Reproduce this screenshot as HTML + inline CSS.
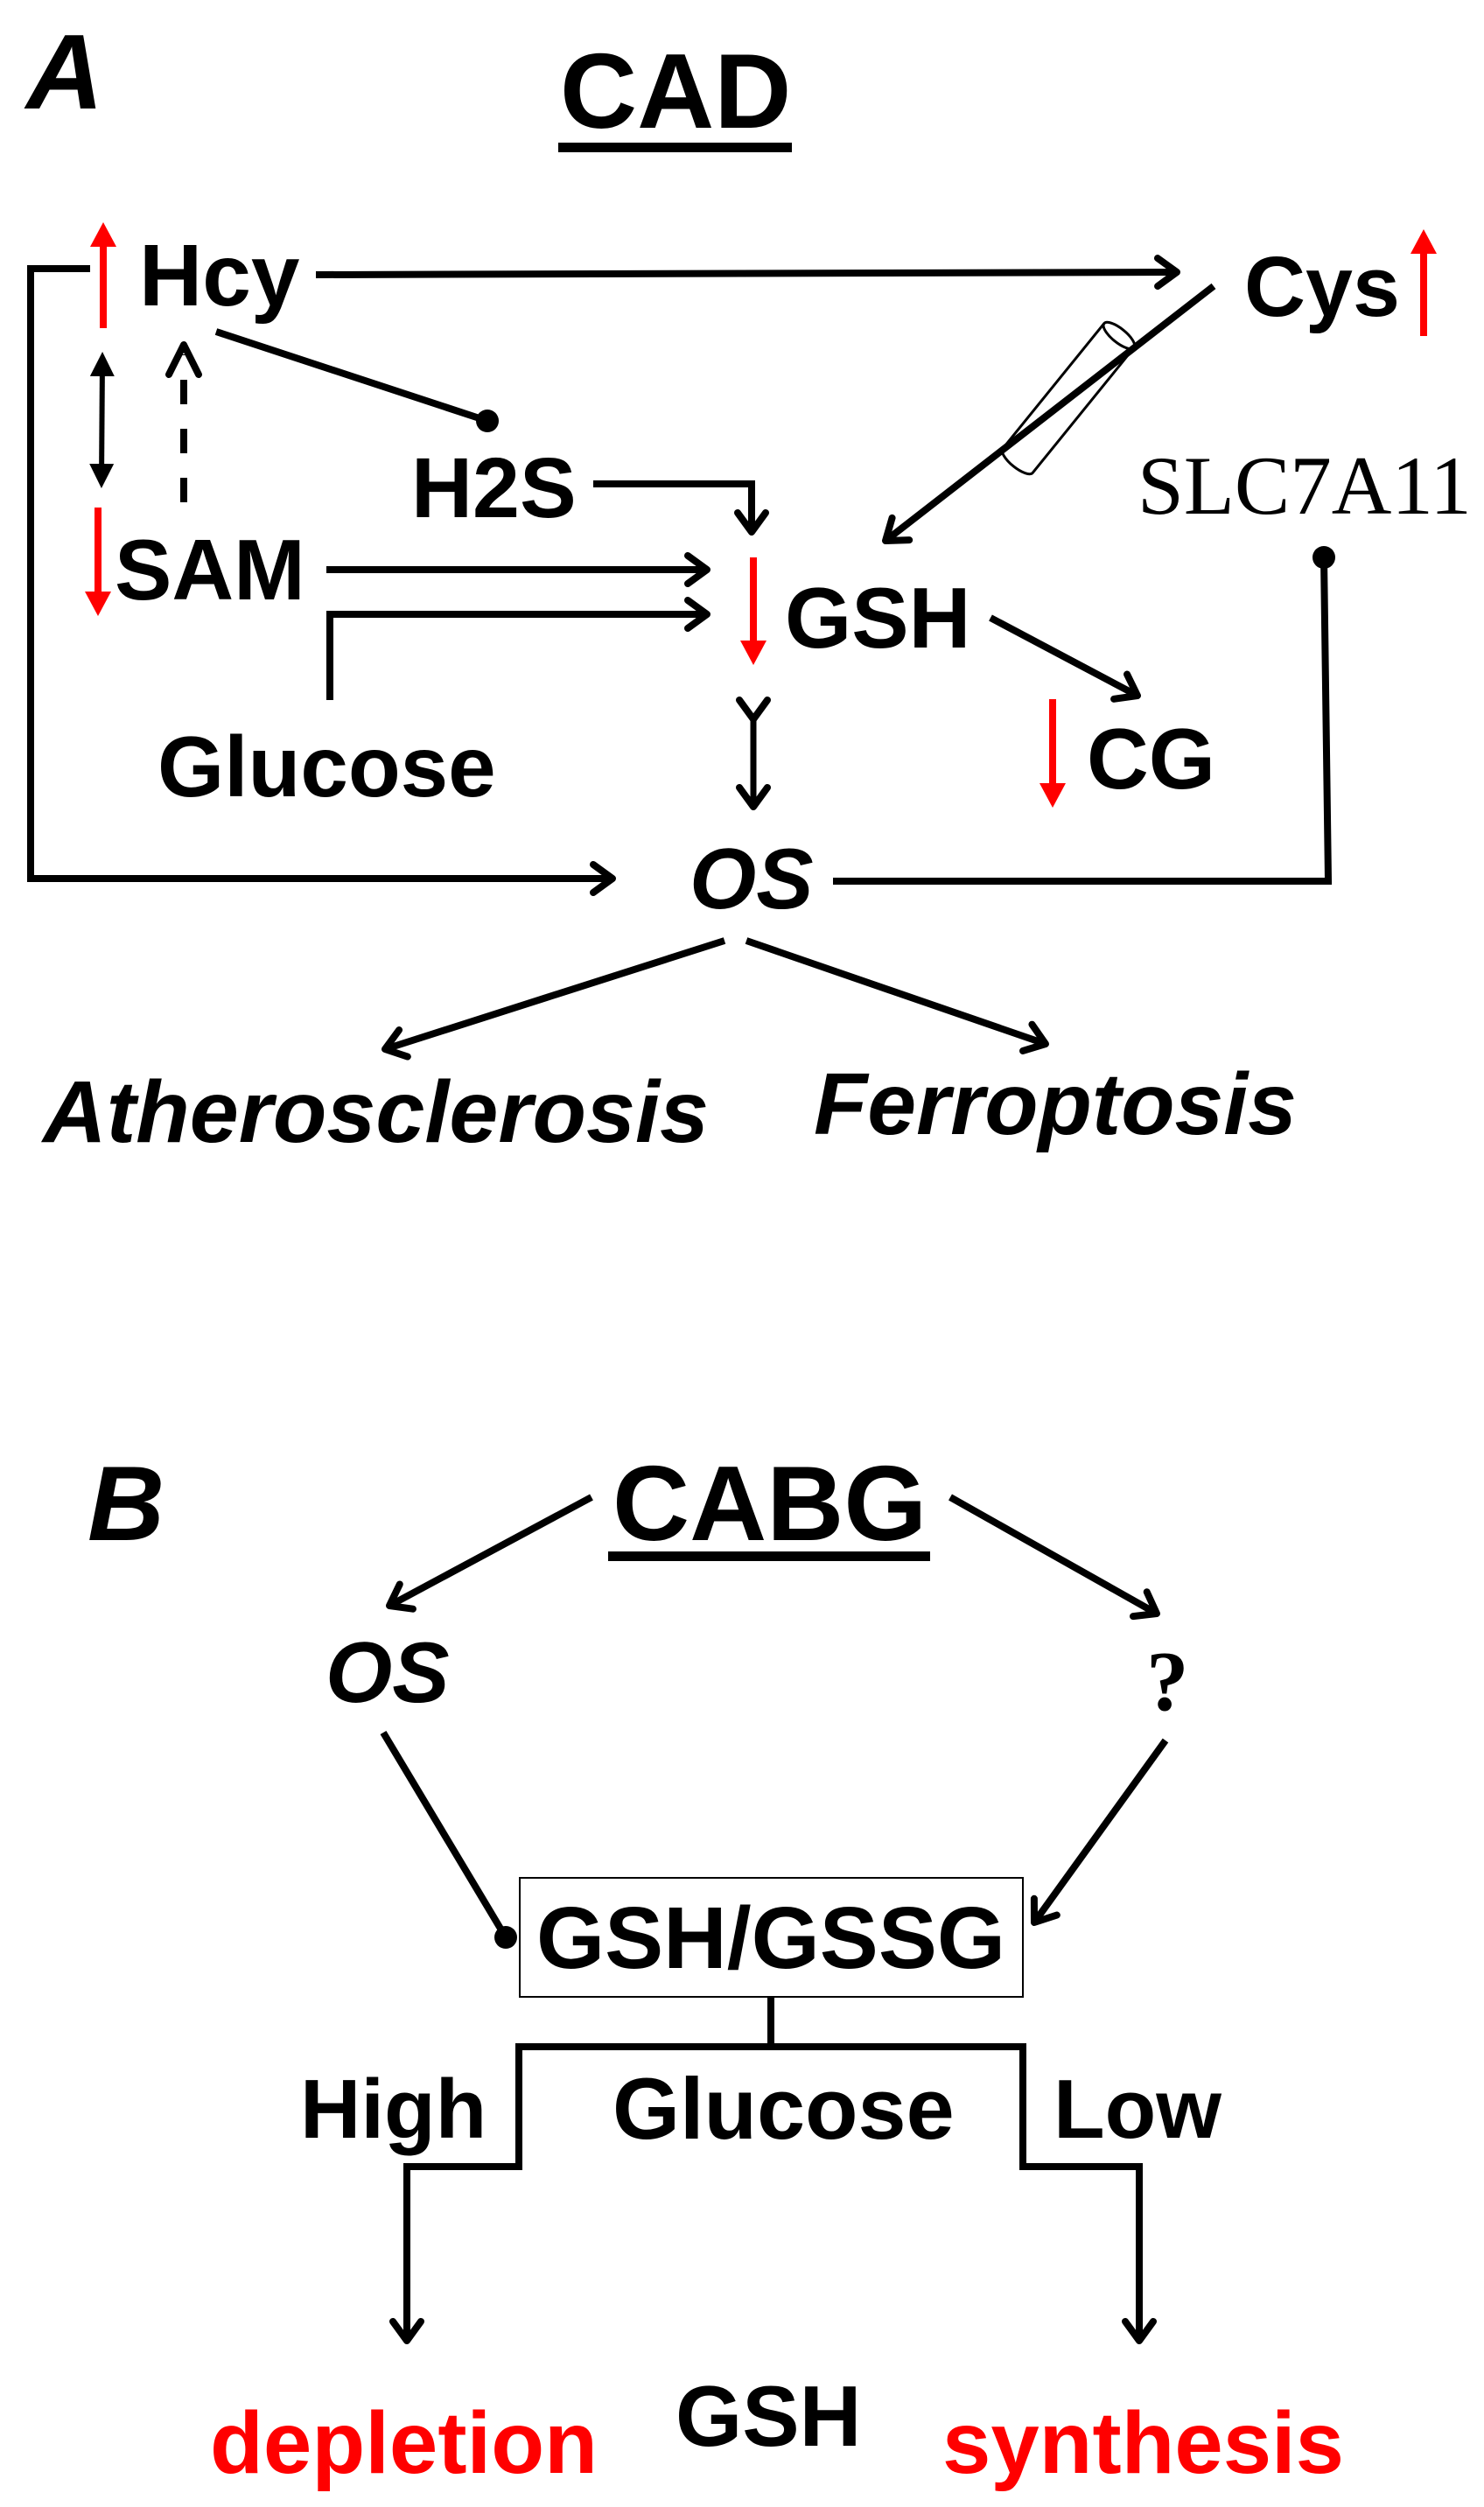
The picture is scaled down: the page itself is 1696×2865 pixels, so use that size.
<!DOCTYPE html>
<html><head><meta charset="utf-8"><style>
html,body{margin:0;padding:0;background:#fff;}
svg{display:block;}
text{font-family:"Liberation Sans",Arial,sans-serif;font-weight:bold;fill:#000;}
.serif{font-family:"Liberation Serif","Times New Roman",serif;font-weight:normal;}
.it{font-style:italic;}
.red{fill:#ff0000;}
</style></head><body>
<svg width="1696" height="2865" viewBox="0 0 1696 2865" xmlns="http://www.w3.org/2000/svg">
<defs>
<marker id="op" markerUnits="userSpaceOnUse" markerWidth="60" markerHeight="60" refX="30" refY="30" orient="auto">
<path d="M8,14 L30,30 L8,46" fill="none" stroke="#000" stroke-width="8" stroke-linecap="round" stroke-linejoin="round"/>
</marker>
<marker id="fb" markerUnits="userSpaceOnUse" markerWidth="40" markerHeight="40" refX="20" refY="20" orient="auto-start-reverse">
<path d="M0,6 L28,20 L0,34 Z" fill="#000"/>
</marker>
<marker id="fr" markerUnits="userSpaceOnUse" markerWidth="40" markerHeight="40" refX="20" refY="20" orient="auto">
<path d="M0,5 L28,20 L0,35 Z" fill="#ff0000"/>
</marker>
<marker id="dot" markerUnits="userSpaceOnUse" markerWidth="30" markerHeight="30" refX="15" refY="15">
<circle cx="15" cy="15" r="13" fill="#000"/>
</marker>
</defs>

<!-- Panel A text -->
<text x="30" y="124" font-size="122" class="it">A</text>
<text x="640" y="146" font-size="122">CAD</text>
<rect x="638" y="163" width="267" height="11" fill="#000"/>

<text x="159" y="349" font-size="100">Hcy</text>
<text x="1422" y="361" font-size="97">Cys</text>
<text x="470" y="591" font-size="97">H2S</text>
<text x="1300" y="587" font-size="95" class="serif">SLC7A11</text>
<text x="131" y="685" font-size="98">SAM</text>
<text x="897" y="740" font-size="98">GSH</text>
<text x="1242" y="901" font-size="98">CG</text>
<text x="180" y="910" font-size="98">Glucose</text>
<text x="788" y="1038" font-size="98" class="it">OS</text>
<text x="49" y="1305" font-size="100" class="it" textLength="761" lengthAdjust="spacingAndGlyphs">Atherosclerosis</text>
<text x="930" y="1296" font-size="100" class="it" textLength="552" lengthAdjust="spacingAndGlyphs">Ferroptosis</text>

<g fill="none" stroke="#000" stroke-width="8">
<!-- bracket Hcy -> OS -->
<polyline points="103,307 35,307 35,1004 700,1004" marker-end="url(#op)"/>
<!-- Hcy -> Cys -->
<line x1="361" y1="314" x2="1345" y2="311" marker-end="url(#op)"/>
<!-- Hcy -> H2S dot -->
<line x1="247" y1="379" x2="557" y2="481" marker-end="url(#dot)"/>
<!-- double arrow Hcy/SAM -->
<line x1="117" y1="410" x2="116" y2="550" stroke-width="6" marker-start="url(#fb)" marker-end="url(#fb)"/>
<!-- dashed SAM -> Hcy -->
<line x1="210" y1="574" x2="210" y2="405" stroke-dasharray="28,28"/>
<polyline points="193,428 210,394 227,428" stroke-linecap="round" stroke-linejoin="round"/>
<!-- H2S -> GSH -->
<polyline points="678,553 859,553 859,608" marker-end="url(#op)"/>
<!-- SAM -> GSH -->
<line x1="373" y1="651" x2="808" y2="651" marker-end="url(#op)"/>
<!-- Glucose -> GSH -->
<polyline points="377,800 377,702 808,702" marker-end="url(#op)"/>
<!-- Cys -> GSH -->
<line x1="1387" y1="327" x2="1012" y2="618" marker-end="url(#op)"/>
<!-- GSH -> CG -->
<line x1="1132" y1="706" x2="1300" y2="795" marker-end="url(#op)"/>
<!-- GSH <-> OS -->
<line x1="861" y1="822" x2="861" y2="922" stroke-width="7" marker-start="url(#op)" marker-end="url(#op)"/>
<!-- SLC7A11 -> OS -->
<polyline points="1513,637 1518,1007 952,1007" marker-start="url(#dot)"/>
<!-- OS -> outcomes -->
<line x1="828" y1="1075" x2="440" y2="1199" marker-end="url(#op)"/>
<line x1="853" y1="1075" x2="1195" y2="1193" marker-end="url(#op)"/>
</g>

<!-- cylinder -->
<g transform="translate(1221,455) rotate(-51)" fill="none" stroke="#000" stroke-width="3">
<path d="M92,-22 L-92,-22 A8,22 0 0 0 -92,22 L92,22"/>
<ellipse cx="92" cy="0" rx="8" ry="22"/>
</g>

<!-- red arrows -->
<g stroke="#ff0000" stroke-width="8" fill="none">
<line x1="118" y1="375" x2="118" y2="262" marker-end="url(#fr)"/>
<line x1="1627" y1="384" x2="1627" y2="270" marker-end="url(#fr)"/>
<line x1="112" y1="580" x2="112" y2="696" marker-end="url(#fr)"/>
<line x1="861" y1="637" x2="861" y2="752" marker-end="url(#fr)"/>
<line x1="1203" y1="799" x2="1203" y2="915" marker-end="url(#fr)"/>
</g>

<!-- Panel B -->
<text x="100" y="1760" font-size="122" class="it">B</text>
<text x="700" y="1760" font-size="122">CABG</text>
<rect x="695" y="1773" width="368" height="11" fill="#000"/>
<text x="372" y="1945" font-size="98" class="it">OS</text>
<text x="1310" y="1954" font-size="97" class="serif" style="font-weight:bold">?</text>
<rect x="594" y="2146" width="575" height="136" fill="none" stroke="#000" stroke-width="2"/>
<text x="613" y="2249" font-size="100" textLength="536" lengthAdjust="spacingAndGlyphs">GSH/GSSG</text>
<text x="343" y="2443" font-size="96">High</text>
<text x="700" y="2444" font-size="99">Glucose</text>
<text x="1204" y="2443" font-size="96">Low</text>
<text x="772" y="2795" font-size="98">GSH</text>
<text x="240" y="2826" font-size="100" class="red" textLength="443" lengthAdjust="spacingAndGlyphs">depletion</text>
<text x="1077" y="2826" font-size="100" class="red" textLength="459" lengthAdjust="spacingAndGlyphs">synthesis</text>

<g fill="none" stroke="#000" stroke-width="8">
<line x1="676" y1="1711" x2="445" y2="1835" marker-end="url(#op)"/>
<line x1="1086" y1="1711" x2="1322" y2="1844" marker-end="url(#op)"/>
<line x1="438" y1="1980" x2="578" y2="2214" marker-end="url(#dot)"/>
<line x1="1332" y1="1989" x2="1182" y2="2197" marker-end="url(#op)"/>
<line x1="881" y1="2282" x2="881" y2="2339"/>
<polyline points="465,2674 465,2476 593,2476 593,2339 1169,2339 1169,2476 1302,2476 1302,2674"/>
<line x1="465" y1="2600" x2="465" y2="2675" marker-end="url(#op)"/>
<line x1="1302" y1="2600" x2="1302" y2="2675" marker-end="url(#op)"/>
</g>
</svg>
</body></html>
